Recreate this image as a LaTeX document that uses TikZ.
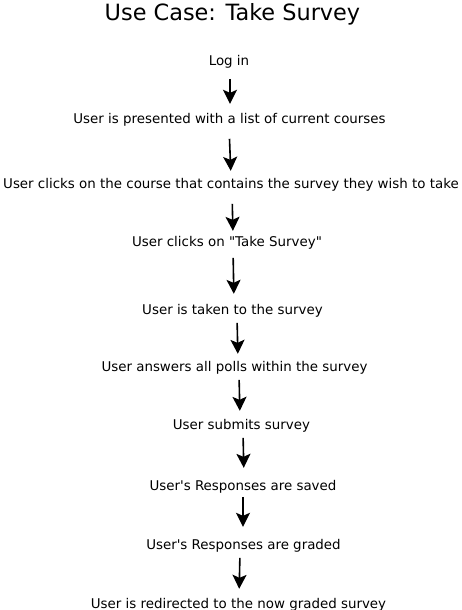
\documentclass[tikz,border=0pt]{standalone}
\usepackage{fontspec}
\setmainfont{DejaVu Sans}[Ligatures=TeXOff]
\usetikzlibrary{arrows.meta}

\tikzstyle{title} = [font=\fontsize{22.4}{26}\selectfont,inner sep=0pt,anchor=base]
\tikzstyle{stepnode} = [font=\fontsize{13.4}{16}\selectfont,inner sep=0pt,anchor=base]
\tikzstyle{arrowdecorate} = [-{Stealth[length=14pt,width=14pt,inset=3pt]},line width=1.6pt]

\begin{document}
\begin{tikzpicture}[x=1pt,y=-1pt]
      \useasboundingbox (0,0) rectangle (461,610);
      \node[title] (heading) at (232.5,21) {Use Case: Take Survey};
      % nodes
      \foreach \nodename/\x/\y/\text in {
        login/229/66/Log in,
        courses/229.5/123/User is presented with a list of current courses,
        course/231/188/User clicks on the course that contains the survey they wish to take,
        takesurvey/227/246/User clicks on "Take Survey",
        taken/232.5/314/User is taken to the survey,
        answers/234.5/371/User answers all polls within the survey,
        submits/241.5/429/User submits survey,
        saved/243/490/User's Responses are saved,
        graded/243.5/549/User's Responses are graded,
        redirected/238.5/608/User is redirected to the now graded survey}
      {
        \node[stepnode] (\nodename) at (\x,\y) {\text};
      };
      %edges
      \foreach \startnode/\endnode/\xa/\xb/\sa/\sb in {
        login/courses/1/0.5/9.8/8.8,
        courses/course/-0.5/0/12.8/6.8,
        course/takesurvey/1/6/12.8/4.8,
        takesurvey/taken/6/1.5/8.8/9.8,
        taken/answers/4.5/3.5/5.8/6.8,
        answers/submits/4.5/-1.5/5.8/7.8,
        submits/saved/1.5/1/5.8/11.8,
        saved/graded/0/-0.5/3.8/11.8,
        graded/redirected/-3.5/0.5/5.8/8.8}
      {
        \draw[arrowdecorate,shorten <=\sa pt,shorten >=\sb pt] ([xshift=\xa pt]\startnode.south) -- ([xshift=\xb pt]\endnode.north);
      };
\end{tikzpicture}
\end{document}
